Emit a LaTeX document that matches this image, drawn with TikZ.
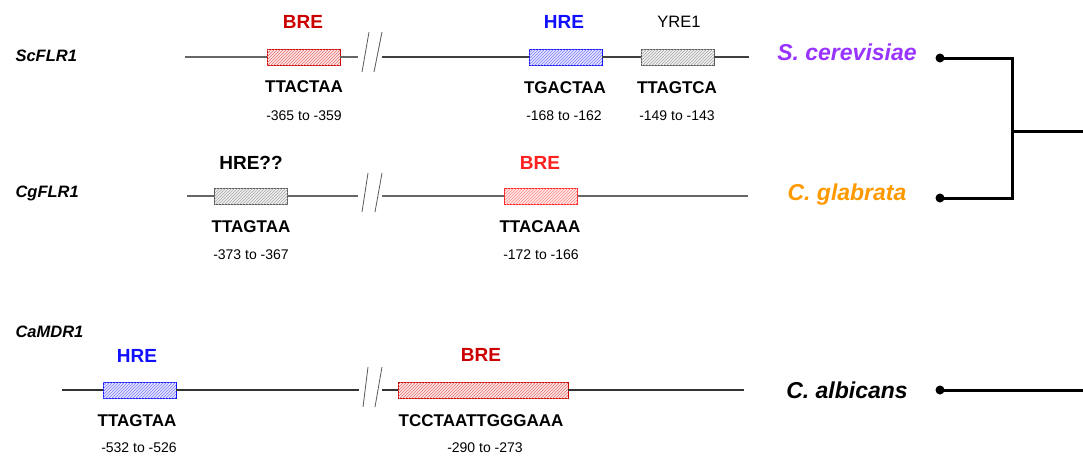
\documentclass[tikz,border=0pt]{standalone}
\usepackage{fontspec}
\setmainfont{Liberation Sans}
\usepackage{xcolor}
\usepackage{tikz}
\usetikzlibrary{patterns}
\usetikzlibrary{positioning}
\usetikzlibrary{calc}

\definecolor{brered}{HTML}{CC0000}
\definecolor{brebright}{HTML}{FF2020}
\definecolor{hreblue}{HTML}{1010FF}
\definecolor{scpurple}{HTML}{9933FF}
\definecolor{cgorange}{HTML}{FF9900}

\tikzset{
	site/.style n args={2}{draw=#2, fill=#1, line width=0.8pt, minimum width=73pt, minimum height=16pt, inner sep=0pt,
		postaction={pattern=north east lines, pattern color=#2!55}},
	dna/.style={line width=1.1pt},
	cut/.style={line width=0.8pt, gray!70!black},
	motif/.style={font=\bfseries\fontsize{19}{19}\selectfont},
	seq/.style={font=\bfseries\fontsize{17}{17}\selectfont},
	locus/.style={font=\fontsize{14}{14}\selectfont},
	gene/.style={font=\bfseries\itshape\fontsize{16.5}{16.5}\selectfont, anchor=west},
	species/.style={font=\bfseries\itshape\fontsize{23}{23}\selectfont},
	branch/.style={line width=3pt}
}

\begin{document}
\begin{tikzpicture}[x=1pt, y=-1pt]
		\useasboundingbox (0,0) rectangle (1083,459);
		%coordinates
		\coordinate (ScA) at (185,57);
		\coordinate (ScB) at (358,57);
		\coordinate (ScC) at (382,57);
		\coordinate (ScD) at (749,57);
		\coordinate (CgA) at (187,196);
		\coordinate (CgB) at (358,196);
		\coordinate (CgC) at (382,196);
		\coordinate (CgD) at (748,196);
		\coordinate (CaA) at (62,390);
		\coordinate (CaB) at (359,390);
		\coordinate (CaC) at (382,390);
		\coordinate (CaD) at (744,390);
		\coordinate (join) at (1012,131);
		\coordinate (rootA) at (1083,131);
		\coordinate (rootB) at (1083,390);
		
		%nodes
		\node[gene] (Sc) at (12,56) {ScFLR1};
		\node[gene] (Cg) at (12,193) {CgFLR1};
		\node[gene] (Ca) at (12,332) {CaMDR1};
		
		\node[site={red!10}{brered}] (BREa) at (303.5,57) {};
		\node[site={blue!10}{hreblue}] (HREa) at (565.5,57) {};
		\node[site={gray!10}{gray!70!black}] (YREa) at (677.5,57) {};
		\node[site={gray!10}{gray!70!black}] (HREb) at (251,196) {};
		\node[site={red!8}{brebright}] (BREb) at (541,196) {};
		\node[site={blue!10}{hreblue}, minimum width=73pt] (HREc) at (139.5,390) {};
		\node[site={red!10}{brered}, minimum width=170pt] (BREc) at (483,390) {};
		
		\node[motif, text=brered] (BREaT) at (303,22) {BRE};
		\node[motif, text=hreblue] (HREaT) at (564,22) {HRE};
		\node[font=\fontsize{16.5}{16.5}\selectfont] (YREaT) at (679,22) {YRE1};
		\node[motif] (HREbT) at (251,163) {HRE??};
		\node[motif, text=brebright] (BREbT) at (540,163) {BRE};
		\node[motif, text=hreblue] (HREcT) at (137,356) {HRE};
		\node[motif, text=brered] (BREcT) at (481,355) {BRE};
		
		\node[seq] (BREaS) at (304,87) {TTACTAA};
		\node[seq] (HREaS) at (565,88) {TGACTAA};
		\node[seq] (YREaS) at (677,88) {TTAGTCA};
		\node[seq] (HREbS) at (251,227) {TTAGTAA};
		\node[seq] (BREbS) at (540,227) {TTACAAA};
		\node[seq] (HREcS) at (137,421) {TTAGTAA};
		\node[seq] (BREcS) at (481,421) {TCCTAATTGGGAAA};
		
		\node[locus] (BREaP) at (304,116) {-365 to -359};
		\node[locus] (HREaP) at (564,116) {-168 to -162};
		\node[locus] (YREaP) at (677,116) {-149 to -143};
		\node[locus] (HREbP) at (251,255) {-373 to -367};
		\node[locus] (BREbP) at (541,255) {-172 to -166};
		\node[locus] (HREcP) at (139,448) {-532 to -526};
		\node[locus] (BREcP) at (485,448) {-290 to -273};
		
		\node[species, text=scpurple] (Scer) at (847,52) {S. cerevisiae};
		\node[species, text=cgorange] (Cgla) at (847,195) {C. glabrata};
		\node[species] (Calb) at (847,390) {C. albicans};
		\node[circle, fill, inner sep=0pt, minimum size=9pt] (ScDot) at (940,58) {};
		\node[circle, fill, inner sep=0pt, minimum size=9pt] (CgDot) at (940,198) {};
		\node[circle, fill, inner sep=0pt, minimum size=9pt] (CaDot) at (940,390) {};
		
		%promoter lines
		\draw[dna, gray!80!black] (ScA) -- (BREa.west) (BREa.east) -- (ScB);
		\draw[dna, black!75] (ScC) -- (HREa.west) (HREa.east) -- (YREa.west) (YREa.east) -- (ScD);
		\draw[dna, gray!80!black] (CgA) -- (HREb.west) (HREb.east) -- (CgB);
		\draw[dna, gray!80!black] (CgC) -- (BREb.west) (BREb.east) -- (CgD);
		\draw[dna, black!80] (CaA) -- (HREc.west) (HREc.east) -- (CaB);
		\draw[dna, black!80] (CaC) -- (BREc.west) (BREc.east) -- (CaD);
		
		%breaks
		\draw[cut] (362,72) -- ++(7,-40) (374,72) -- ++(8,-40);
		\draw[cut] (362,212) -- ++(6,-39) (375,212) -- ++(7,-39);
		\draw[cut] (363,407) -- ++(5,-40) (375,407) -- ++(7,-40);
		
		%tree
		\draw[branch] (ScDot.center) -| (join) |- (CgDot.center);
		\draw[branch] (join) -- (rootA);
		\draw[branch] (CaDot.center) -- (rootB);
		\end{tikzpicture}
\end{document}
